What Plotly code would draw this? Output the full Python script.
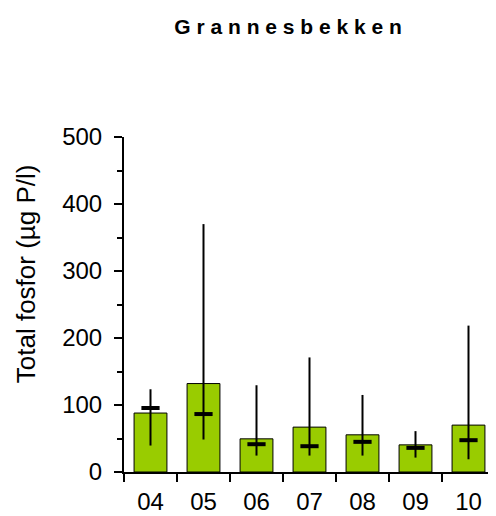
import plotly.graph_objects as go

years = ["04", "05", "06", "07", "08", "09", "10"]
mean_vals = [88, 132, 49.5, 67, 55.5, 40.5, 70]
median_vals = [95.5, 86.5, 41.5, 38.5, 45, 36, 47.5]
max_vals = [123.5, 370, 129.5, 171, 115, 61, 218.5]
min_vals = [39.5, 48.5, 24.5, 24.5, 24.5, 21.5, 19]

y_ticks = [0, 100, 200, 300, 400, 500]

font_family = "Liberation Sans, Arial, sans-serif"

fig = go.Figure()
fig.add_trace(go.Bar(
    x=years, y=mean_vals, width=0.62,
    marker=dict(color="#99CC00", line=dict(color="black", width=1)),
    showlegend=False, hoverinfo="skip",
))
fig.add_trace(go.Scatter(
    x=years, y=median_vals, mode="markers",
    marker=dict(symbol="line-ew", size=13, line=dict(color="black", width=4)),
    error_y=dict(type="data", symmetric=False,
                 array=[mx - md for mx, md in zip(max_vals, median_vals)],
                 arrayminus=[md - mn for md, mn in zip(median_vals, min_vals)],
                 color="black", thickness=2, width=0),
    showlegend=False,
))

fig.update_layout(
    width=488, height=508,
    margin=dict(l=116, r=1, t=129, b=42),
    paper_bgcolor="white", plot_bgcolor="white",
    font=dict(family=font_family, color="black", size=24),
    title=dict(text="<b>G r a n n e s b e k k e n</b>", x=0.574, xanchor="center",
               y=0.9626, yanchor="middle", font=dict(size=21, family=font_family)),
    annotations=[dict(text="Total fosfor (µg P/l)", xref="paper", yref="paper",
                      x=-0.264, y=0.5905, xanchor="center", yanchor="middle",
                      textangle=-90, showarrow=False, font=dict(size=26))],
)
fig.update_xaxes(
    type="category", range=[-0.5, 6.5], showline=True, linecolor="black", linewidth=2,
    ticks="outside", tickson="boundaries", ticklen=8, tickwidth=1.5, tickcolor="black",
    tickfont=dict(size=24), ticklabelstandoff=7, showgrid=False, zeroline=False,
)
fig.update_yaxes(
    range=[0, 500], tickvals=y_ticks, showline=True, linecolor="black", linewidth=2,
    ticks="outside", ticklen=8, tickwidth=1.5, tickcolor="black",
    minor=dict(dtick=50, ticks="outside", ticklen=5, tickwidth=1.5, tickcolor="black"),
    tickfont=dict(size=24), ticklabelstandoff=7, showgrid=False, zeroline=False,
)

fig.write_html("out.html")
